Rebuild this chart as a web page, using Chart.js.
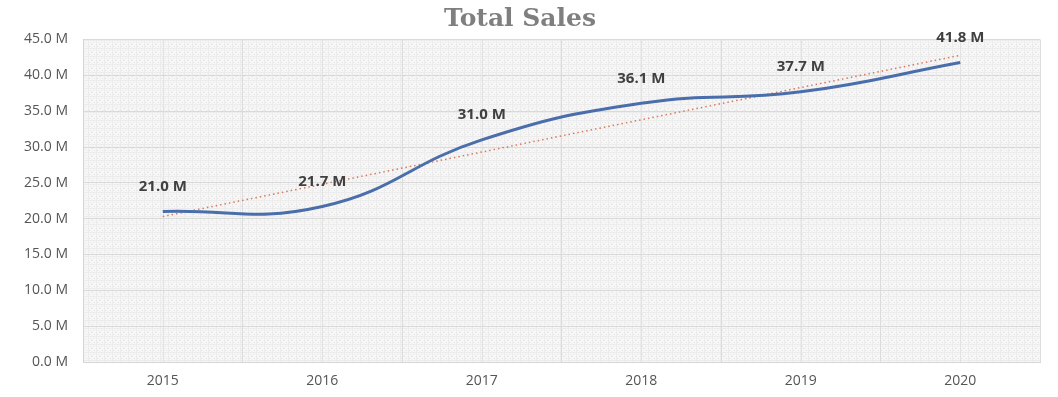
<!DOCTYPE html>
<html>
<head>
<meta charset="utf-8">
<title>Total Sales</title>
<script src="https://cdn.jsdelivr.net/npm/chart.js@4.4.1/dist/chart.umd.min.js"></script>
<style>
    body { margin: 0; background: #ffffff; }
    #wrap { width: 1058px; height: 397px; }
</style>
</head>
<body>
<div id="wrap"><canvas id="grafico" width="1058" height="397"></canvas></div>
<script>
// Dados do gráfico de vendas totais (em milhões)
const anos = ["2015", "2016", "2017", "2018", "2019", "2020"];
const vendas = [21.0, 21.7, 31.0, 36.1, 37.7, 41.8];
// Linha de tendência linear: valores nas extremidades
const tendencia = [20.3, null, null, null, null, 42.8];
const ticksY = [0, 5, 10, 15, 20, 25, 30, 35, 40, 45];

const grafico = document.getElementById("grafico");

// Textura clara do fundo da área do gráfico
function criarTextura() {
    const tile = document.createElement("canvas");
    tile.width = 8;
    tile.height = 8;
    const c = tile.getContext("2d");
    c.fillStyle = "#f6f6f6";
    c.fillRect(0, 0, 8, 8);
    c.fillStyle = "#e6e6e6";
    for (let i = 0; i < 8; i += 2) {
        c.fillRect(i, i, 1, 1);
        c.fillRect(7 - i, i, 1, 1);
    }
    c.fillStyle = "#ececec";
    c.fillRect(0, 0, 8, 1);
    c.fillRect(0, 0, 1, 8);
    return c.createPattern(tile, "repeat");
}

const fundoPlugin = {
    id: "fundo",
    beforeDraw(chart) {
        const { ctx, chartArea } = chart;
        ctx.save();
        ctx.fillStyle = criarTextura();
        ctx.fillRect(chartArea.left, chartArea.top, chartArea.width, chartArea.height);
        // linhas verticais nos centros das categorias
        ctx.strokeStyle = "#e2e2e2";
        ctx.lineWidth = 1;
        const x = chart.scales.x;
        anos.forEach((a, i) => {
            const px = Math.round(x.getPixelForValue(i)) + 0.5;
            ctx.beginPath();
            ctx.moveTo(px, chartArea.top);
            ctx.lineTo(px, chartArea.bottom);
            ctx.stroke();
        });
        ctx.restore();
    },
};

// Rótulos de valor acima de cada ponto
const rotulosPlugin = {
    id: "rotulos",
    afterDatasetsDraw(chart) {
        const { ctx } = chart;
        const meta = chart.getDatasetMeta(0);
        ctx.save();
        ctx.font = "bold 15px 'Open Sans'";
        ctx.fillStyle = "#404040";
        ctx.textAlign = "center";
        ctx.textBaseline = "middle";
        meta.data.forEach((ponto, i) => {
            ctx.fillText(vendas[i].toFixed(1) + " M", ponto.x, ponto.y - 25);
        });
        ctx.restore();
    },
};

const fonteEixo = { family: "Open Sans", size: 14 };

new Chart(grafico, {
    type: "line",
    data: {
        labels: anos,
        datasets: [
            {
                data: vendas,
                borderColor: "#4a6dab",
                borderWidth: 3,
                tension: 0.45,
                pointRadius: 0,
                fill: false,
                order: 1,
            },
            {
                data: tendencia,
                spanGaps: true,
                borderColor: "#d9785a",
                borderWidth: 1.5,
                borderDash: [1.5, 3],
                pointRadius: 0,
                fill: false,
                order: 2,
            },
        ],
    },
    options: {
        responsive: false,
        animation: false,
        layout: { padding: { left: 0, right: 18, bottom: 0 } },
        scales: {
            x: {
                offset: true,
                afterFit(axis) {
                    axis.height = 35;
                },
                grid: { offset: true, color: "#dcdcdc", drawTicks: false },
                border: { display: true, color: "#d6d6d6" },
                ticks: { font: fonteEixo, color: "#555555", padding: 11 },
            },
            y: {
                min: 0,
                max: 45,
                afterBuildTicks(axis) {
                    axis.ticks = ticksY.map((v) => ({ value: v }));
                },
                afterFit(axis) {
                    axis.width = 83;
                },
                grid: { color: "#dadada", drawTicks: false },
                border: { display: true, color: "#d6d6d6" },
                ticks: {
                    font: fonteEixo,
                    color: "#555555",
                    padding: 15,
                    callback: (v) => v.toFixed(1) + " M",
                },
            },
        },
        plugins: {
            title: {
                display: true,
                text: "Total Sales",
                color: "#7f7f7f",
                font: { family: "DejaVu Serif", size: 25, weight: "bold", lineHeight: 1.1 },
                padding: { top: 6, bottom: 6 },
            },
            legend: { display: false },
            tooltip: { enabled: false },
        },
    },
    plugins: [fundoPlugin, rotulosPlugin],
});
</script>
</body>
</html>
